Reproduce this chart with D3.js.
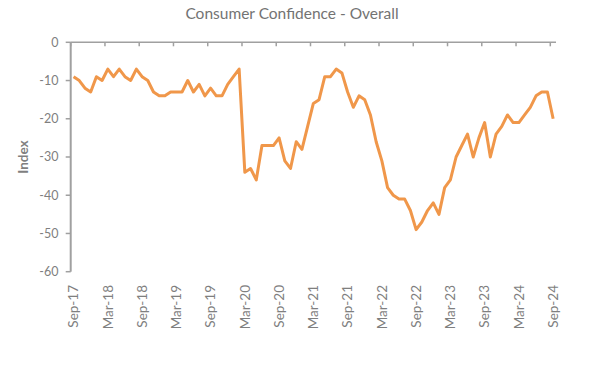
<!DOCTYPE html>
<html>
<head>
<meta charset="utf-8">
<script src="https://cdn.jsdelivr.net/npm/d3@7"></script>
<style>
  body { margin: 0; background: #fff; }
  svg text { font-family: Lato, "Open Sans", sans-serif; }
</style>
</head>
<body>
<svg id="chart" width="600" height="387"></svg>
<script>
// monthly index, Sep-17 .. Sep-24
const confidence = [
  -9, -10, -12, -13, -9, -10, -7, -9, -7, -9, -10, -7,
  -9, -10, -13, -14, -14, -13, -13, -13, -10, -13, -11, -14,
  -12, -14, -14, -11, -9, -7, -34, -33, -36, -27, -27, -27,
  -25, -31, -33, -26, -28, -22, -16, -15, -9, -9, -7, -8,
  -13, -17, -14, -15, -19, -26, -31, -38, -40, -41, -41, -44,
  -49, -47, -44, -42, -45, -38, -36, -30, -27, -24, -30, -25,
  -21, -30, -24, -22, -19, -21, -21, -19, -17, -14, -13, -13,
  -20
]
const tickLabels = ["Sep-17", "Mar-18", "Sep-18", "Mar-19", "Sep-19", "Mar-20", "Sep-20",
  "Mar-21", "Sep-21", "Mar-22", "Sep-22", "Mar-23", "Sep-23", "Mar-24", "Sep-24"]
const yTicks = [0, -10, -20, -30, -40, -50, -60]

const svg = d3.select("#chart")
const grey = "#7f7f7f"
const axisGrey = "#a0a0a0"

let x = d3.scaleLinear().domain([-0.5, confidence.length - 0.5]).range([70.7, 556])
let y = d3.scaleLinear().domain([0, -60]).range([42.3, 271.7])

// title
svg.append("text")
    .attr("x", 292).attr("y", 19)
    .attr("text-anchor", "middle")
    .attr("font-size", 15.5)
    .attr("fill", "#737373")
    .text("Consumer Confidence - Overall")

// y axis
svg.append("line")
    .attr("x1", x.range()[0]).attr("x2", x.range()[0])
    .attr("y1", y(0)).attr("y2", y(-60))
    .attr("stroke", axisGrey).attr("stroke-width", 2)

svg.selectAll(".ytick").data(yTicks).enter()
    .append("line")
    .attr("x1", x.range()[0] - 5).attr("x2", x.range()[0])
    .attr("y1", d => y(d)).attr("y2", d => y(d))
    .attr("stroke", axisGrey).attr("stroke-width", 1.5)

svg.selectAll(".ylab").data(yTicks).enter()
    .append("text")
    .attr("x", 58.5).attr("y", d => y(d))
    .attr("dy", "0.35em")
    .attr("text-anchor", "end")
    .attr("font-size", 12.5)
    .attr("fill", grey)
    .text(d => d)

svg.append("text")
    .attr("transform", "translate(28,157) rotate(-90)")
    .attr("text-anchor", "middle")
    .attr("font-size", 13.5)
    .attr("font-weight", "bold")
    .attr("fill", grey)
    .text("Index")

// x axis at zero
svg.append("line")
    .attr("x1", x.range()[0]).attr("x2", x.range()[1])
    .attr("y1", y(0)).attr("y2", y(0))
    .attr("stroke", axisGrey).attr("stroke-width", 1.5)

let xTickPos = d3.range(-0.5, confidence.length, 6)
svg.selectAll(".xtick").data(xTickPos).enter()
    .append("line")
    .attr("x1", d => x(d)).attr("x2", d => x(d))
    .attr("y1", y(0)).attr("y2", y(0) + 4)
    .attr("stroke", axisGrey).attr("stroke-width", 1.5)

svg.selectAll(".xlab").data(tickLabels).enter()
    .append("text")
    .attr("transform", (d, i) => "translate(" + x(i * 6) + ",285) rotate(-90)")
    .attr("dy", "0.35em")
    .attr("text-anchor", "end")
    .attr("font-size", 13.5)
    .attr("fill", grey)
    .text(d => d)

// the line
let line = d3.line()
    .x((d, i) => x(i))
    .y(d => y(d))

svg.append("path")
    .datum(confidence)
    .attr("d", line)
    .attr("fill", "none")
    .attr("stroke", "#f0974a")
    .attr("stroke-width", 3)
    .attr("stroke-linejoin", "round")
</script>
</body>
</html>
